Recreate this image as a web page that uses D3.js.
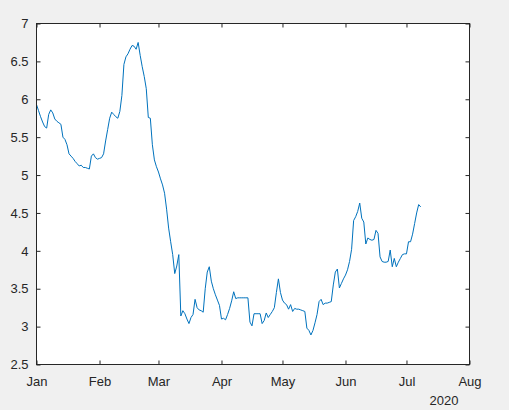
<!DOCTYPE html>
<html>
<head>
<meta charset="utf-8">
<script src="https://cdn.jsdelivr.net/npm/d3@7"></script>
<style>
  html, body { margin: 0; padding: 0; background: #f0f0f0; }
  svg { display: block; }
  text { font-family: "Liberation Sans", Arial, Helvetica, sans-serif; fill: #262626; }
</style>
</head>
<body>
<svg id="chart" width="509" height="410"></svg>
<script>
// ---- data ----
const startDate = "2020-01-01";
const values = [
  5.93, 5.85, 5.77, 5.70, 5.64, 5.62, 5.80, 5.86, 5.82, 5.74,
  5.71, 5.69, 5.67, 5.50, 5.47, 5.40, 5.28, 5.25, 5.22, 5.18,
  5.15, 5.12, 5.13, 5.10, 5.10, 5.09, 5.08, 5.25, 5.28, 5.23,
  5.21, 5.22, 5.23, 5.28, 5.45, 5.60, 5.75, 5.83, 5.80, 5.77,
  5.75, 5.84, 6.05, 6.46, 6.56, 6.60, 6.66, 6.71, 6.70, 6.66,
  6.75, 6.58, 6.43, 6.30, 6.14, 5.76, 5.75, 5.40, 5.20, 5.11,
  5.04, 4.95, 4.87, 4.76, 4.55, 4.30, 4.12, 3.95, 3.70, 3.80,
  3.95, 3.14, 3.21, 3.17, 3.10, 3.04, 3.12, 3.16, 3.36, 3.25,
  3.22, 3.21, 3.19, 3.50, 3.72, 3.79, 3.60, 3.50, 3.42, 3.35,
  3.28, 3.10, 3.11, 3.09, 3.16, 3.24, 3.34, 3.46, 3.37, 3.38,
  3.38, 3.38, 3.38, 3.38, 3.38, 3.06, 3.01, 3.17, 3.17, 3.17,
  3.17, 3.04, 3.08, 3.18, 3.12, 3.16, 3.20, 3.25, 3.45, 3.63,
  3.45, 3.35, 3.31, 3.29, 3.23, 3.29, 3.20, 3.24, 3.23, 3.23,
  3.22, 3.21, 3.20, 2.98, 2.95, 2.89, 2.95, 3.05, 3.16, 3.33,
  3.36, 3.29, 3.31, 3.31, 3.32, 3.33, 3.55, 3.72, 3.76, 3.51,
  3.57, 3.63, 3.68, 3.75, 3.86, 4.02, 4.40, 4.45, 4.52, 4.63,
  4.43, 4.38, 4.09, 4.17, 4.15, 4.14, 4.15, 4.27, 4.23, 3.92,
  3.86, 3.85, 3.85, 3.86, 4.01, 3.79, 3.90, 3.79, 3.85, 3.90,
  3.95, 3.96, 3.96, 4.12, 4.12, 4.22, 4.36, 4.50, 4.61, 4.58
];
const xTickDates = ["2020-01-01","2020-02-01","2020-03-01","2020-04-01","2020-05-01","2020-06-01","2020-07-01","2020-08-01"];
const xTickLabels = ["Jan","Feb","Mar","Apr","May","Jun","Jul","Aug"];
const yTicks = [2.5, 3, 3.5, 4, 4.5, 5, 5.5, 6, 6.5, 7];
const yTickLabels = ["2.5","3","3.5","4","4.5","5","5.5","6","6.5","7"];
const yearLabel = "2020";

// ---- layout ----
const L = 36.5, R = 469.5, T = 23.5, B = 364.5;
const parse = d3.utcParse("%Y-%m-%d");
const start = parse(startDate);
const data = values.map((v, i) => ({ date: d3.utcDay.offset(start, i), value: v }));
const xTicks = xTickDates.map(parse);

const x = d3.scaleUtc().domain([xTicks[0], xTicks[xTicks.length - 1]]).range([L, R]);
const y = d3.scaleLinear().domain([2.5, 7]).range([B, T]);

const svg = d3.select("#chart");
svg.append("rect").attr("x", L).attr("y", T).attr("width", R - L).attr("height", B - T).attr("fill", "#ffffff");

// line
const line = d3.line().x(d => x(d.date)).y(d => y(d.value));
svg.append("path").datum(data)
  .attr("d", line)
  .attr("fill", "none")
  .attr("stroke", "#0072BD")
  .attr("stroke-width", 1);

const tickLen = 4;
const fmtX = (d, i) => xTickLabels[i];
const fmtY = (d, i) => yTickLabels[i];

function styleAxis(g) {
  g.select(".domain").remove();
  g.selectAll(".tick line").attr("stroke", "#262626");
  g.selectAll(".tick text").attr("fill", "#262626").style("font-size", "13px")
    .style("font-family", '"Liberation Sans", Arial, sans-serif');
}

// bottom axis (ticks inward)
svg.append("g").attr("transform", `translate(0,${B})`)
  .call(d3.axisBottom(x).tickValues(xTicks).tickFormat(fmtX).tickSizeInner(-tickLen).tickSizeOuter(0).tickPadding(12))
  .call(styleAxis);
// top axis ticks
svg.append("g").attr("transform", `translate(0,${T})`)
  .call(d3.axisTop(x).tickValues(xTicks).tickFormat("").tickSizeInner(-tickLen).tickSizeOuter(0))
  .call(styleAxis);
// left axis
svg.append("g").attr("transform", `translate(${L},0)`)
  .call(d3.axisLeft(y).tickValues(yTicks).tickFormat(fmtY).tickSizeInner(-tickLen).tickSizeOuter(0).tickPadding(8))
  .call(styleAxis);
// right axis ticks
svg.append("g").attr("transform", `translate(${R},0)`)
  .call(d3.axisRight(y).tickValues(yTicks).tickFormat("").tickSizeInner(-tickLen).tickSizeOuter(0))
  .call(styleAxis);

// box
svg.append("rect").attr("x", L).attr("y", T).attr("width", R - L).attr("height", B - T)
  .attr("fill", "none").attr("stroke", "#262626").attr("stroke-width", 1);

// year label
svg.append("text").attr("x", x(xTicks[xTicks.length - 1]) - 11).attr("y", 405)
  .attr("text-anchor", "end").style("font-size", "13px").text(yearLabel);
</script>
</body>
</html>
